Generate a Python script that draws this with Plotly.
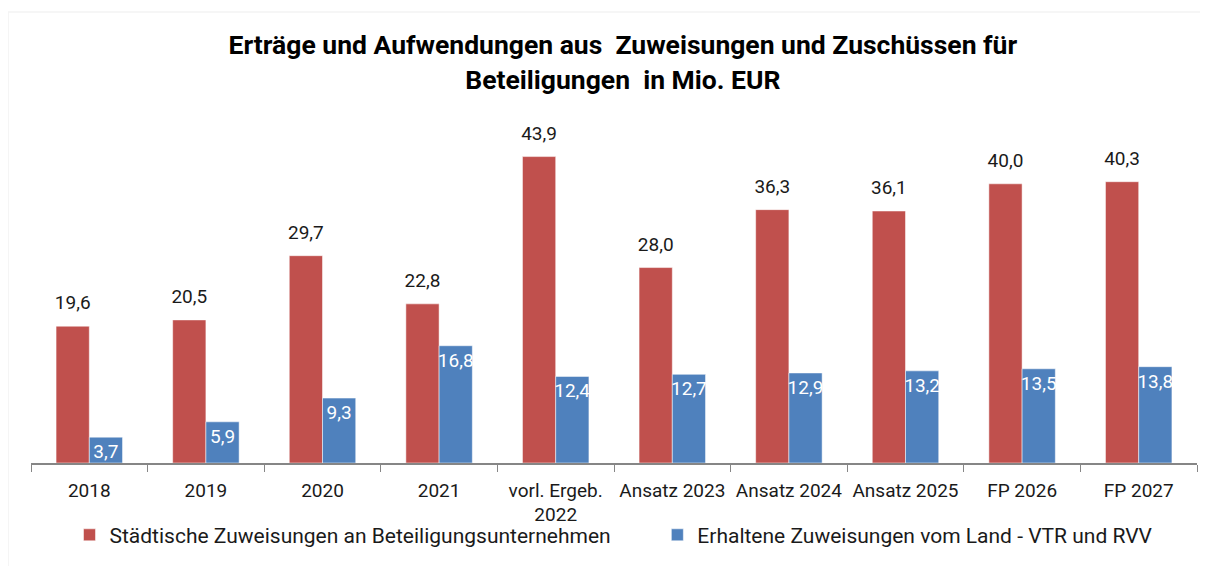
import plotly.graph_objects as go

kategorien = ["2018", "2019", "2020", "2021", "vorl. Ergeb.<br>2022", "Ansatz 2023",
              "Ansatz 2024", "Ansatz 2025", "FP 2026", "FP 2027"]
staedtisch = [19.6, 20.5, 29.7, 22.8, 43.9, 28.0, 36.3, 36.1, 40.0, 40.3]
land = [3.7, 5.9, 9.3, 16.8, 12.4, 12.7, 12.9, 13.2, 13.5, 13.8]

schrift = "Roboto"
abstand = "\u00a0" * 8

fig = go.Figure()
fig.add_bar(
    x=kategorien, y=staedtisch,
    name="Städtische Zuweisungen an Beteiligungsunternehmen" + abstand,
    marker_color="#C0504D",
    texttemplate="<span style='font-size:19px'>%{y:.1f}</span><br> ",
    textposition="outside",
    textfont=dict(size=9, color="#1a1a1a"),
    cliponaxis=False,
)
fig.add_bar(
    x=kategorien, y=land,
    name="Erhaltene Zuweisungen vom Land - VTR und RVV",
    marker_color="#4F81BD",
    texttemplate="%{y:.1f}", textposition="inside", insidetextanchor="end",
    textangle=0,
    textfont=dict(size=19, color="white"),
    constraintext="none",
)

fig.update_layout(
    width=1208, height=566,
    template="simple_white",
    separators=",.",
    font=dict(family=schrift, size=19, color="#1a1a1a"),
    title=dict(
        text="<b>Erträge und Aufwendungen aus  Zuweisungen und Zuschüssen für<br>Beteiligungen  in Mio. EUR</b>",
        x=0.509, xanchor="center", y=0.918, yanchor="middle",
        font=dict(family=schrift, size=26.5, color="black"),
    ),
    margin=dict(l=23, r=19, t=106, b=111),
    barmode="group", bargap=0.43, bargroupgap=0,
    uniformtext=dict(mode="show", minsize=9),
    legend=dict(
        orientation="h", x=0.5, xanchor="center", y=-0.148, yanchor="top",
        font=dict(size=21), itemwidth=30, bgcolor="rgba(0,0,0,0)",
    ),
    shapes=[dict(type="rect", xref="paper", yref="paper", x0=-0.0197, x1=1.2,
                 y0=-0.5, y1=1.292, layer="below", fillcolor="rgba(0,0,0,0)",
                 line=dict(color="#d9d9d9", width=1.5))],
)
fig.update_xaxes(
    showline=True, linecolor="#868686", linewidth=1.5,
    ticks="outside", tickson="boundaries", ticklen=7, tickcolor="#868686",
    tickfont=dict(size=19), tickangle=0, ticklabelstandoff=9,
)
fig.update_yaxes(range=[0, 50], visible=False)

fig.write_html("out.html")
